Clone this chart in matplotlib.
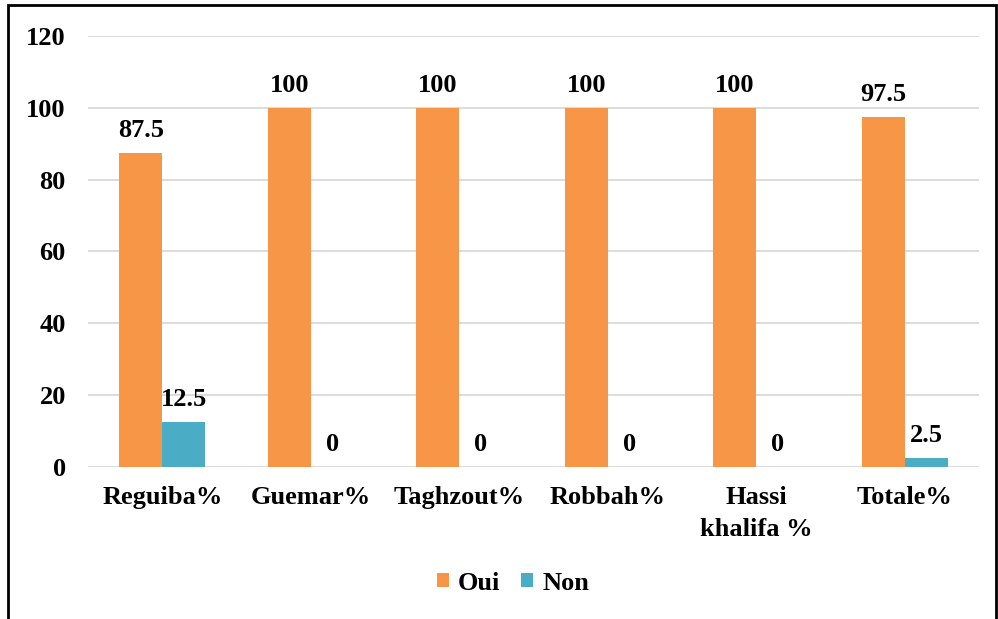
import numpy as np
import matplotlib.pyplot as plt
import matplotlib.patches as patches

# data
sites = ['Reguiba%', 'Guemar%', 'Taghzout%', 'Robbah%', 'Hassi\nkhalifa %', 'Totale%']
oui = [87.5, 100, 100, 100, 100, 97.5]
non = [12.5, 0, 0, 0, 0, 2.5]

plt.rcParams['font.family'] = ['Liberation Serif', 'DejaVu Serif']
plt.rcParams['font.weight'] = 'bold'

fig = plt.figure(figsize=(9.98, 6.19), dpi=100)
ax = fig.add_axes([0.0882, 0.2456, 0.8928, 0.6962])

x = np.arange(len(sites))
w = 0.29
b1 = ax.bar(x - w/2, oui, w, color='#F79646', label='Oui', zorder=3)
b2 = ax.bar(x + w/2, non, w, color='#4BACC6', label='Non', zorder=3)

for bars, vals in ((b1, oui), (b2, non)):
    for r, v in zip(bars, vals):
        txt = '%g' % v
        ax.annotate(txt, (r.get_x() + r.get_width()/2, v), xytext=(0, 8),
                    textcoords='offset points', ha='center', va='bottom',
                    fontsize=19, fontweight='bold')

ax.set_xlim(-0.5, len(sites) - 0.5)
ax.set_ylim(0, 120)
ax.set_yticks(range(0, 121, 20))
ax.set_xticks(x)
ax.set_xticklabels(sites, fontsize=19, fontweight='bold', linespacing=1.5)
ax.tick_params(axis='y', labelsize=19, length=0, pad=16)
ax.tick_params(axis='x', length=0, pad=14)
ax.grid(axis='y', color='#D9D9D9', linewidth=1.3, zorder=0)
for s in ax.spines.values():
    s.set_visible(False)

leg = fig.legend(loc='center', bbox_to_anchor=(0.514, 0.058), ncol=2, frameon=False,
                 fontsize=19, handlelength=0.45, handleheight=0.45, handletextpad=0.35,
                 columnspacing=0.8)

# outer frame
frame = patches.Rectangle((0.008, -0.05), 0.99, 1.042, transform=fig.transFigure,
                          fill=False, edgecolor='black', linewidth=2, clip_on=False)
fig.patches.append(frame)

fig.savefig('out.png', dpi=100)
